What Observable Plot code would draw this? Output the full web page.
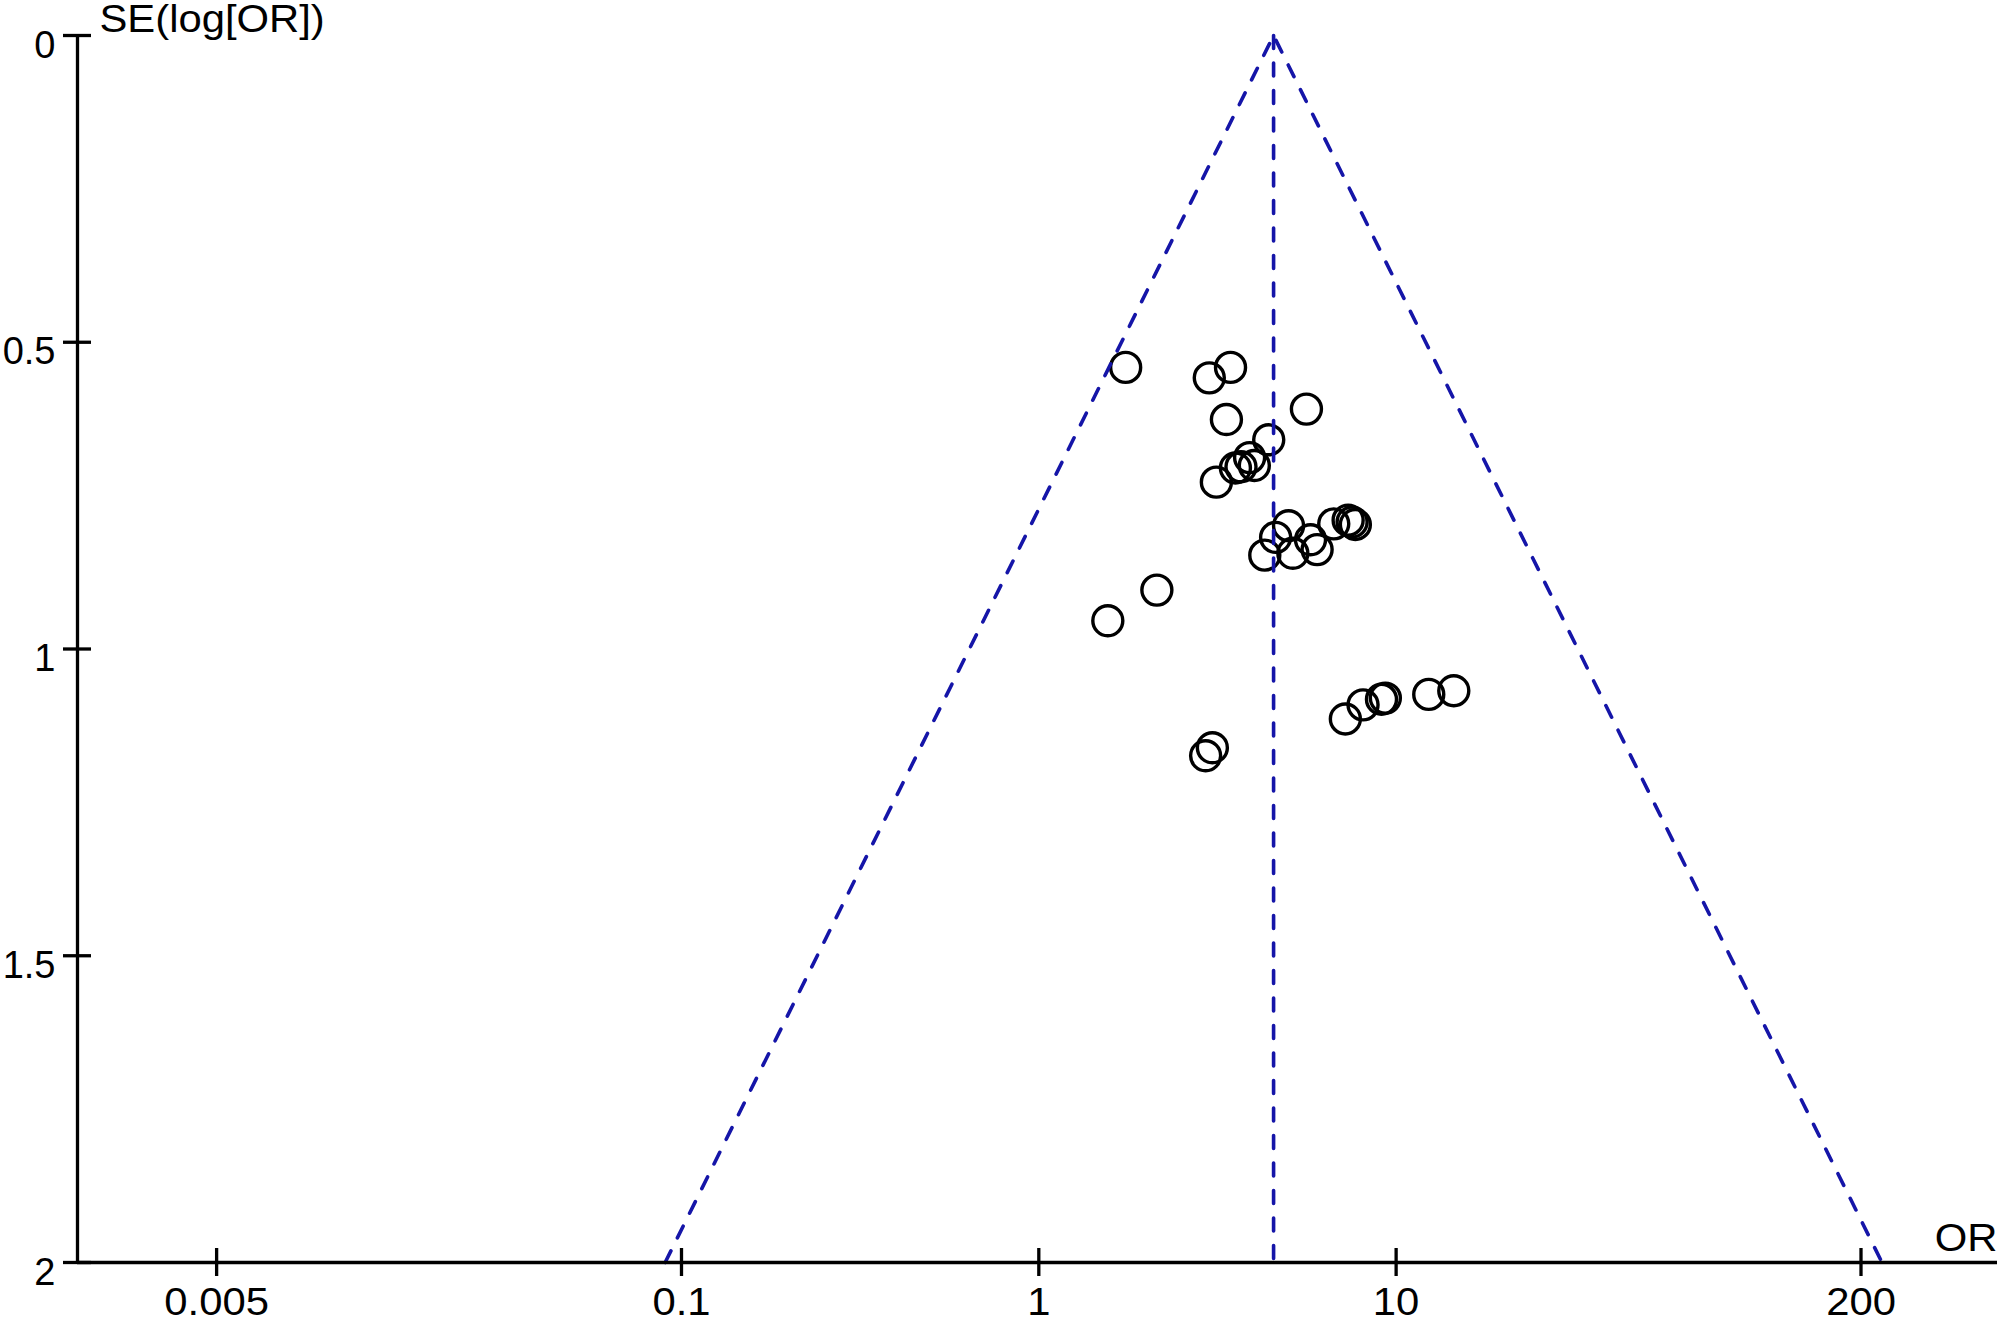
<!DOCTYPE html>
<html>
<head>
<meta charset="utf-8">
<script src="https://cdn.jsdelivr.net/npm/d3@7"></script>
<script src="https://cdn.jsdelivr.net/npm/@observablehq/plot@0.6"></script>
<style>
  html, body { margin: 0; padding: 0; background: #ffffff; }
  #chart svg { display: block; }
</style>
</head>
<body>
<div id="chart"></div>
<script>
// Study odds ratios (x) and standard errors of log OR (y)
const orValues = [1.75, 3.00, 3.44, 5.61, 3.35, 4.40, 3.55, 3.68, 3.89, 4.01, 3.14,
  4.60, 5.00, 4.29, 5.14, 5.76, 6.01, 6.69, 7.34, 7.53, 7.69,
  2.14, 1.56, 3.06, 2.93, 7.21, 8.08, 9.10, 9.33, 12.34, 14.50];
const seValues = [0.541, 0.558, 0.541, 0.609, 0.626, 0.659, 0.705, 0.703, 0.688, 0.701, 0.728,
  0.818, 0.799, 0.847, 0.844, 0.822, 0.838, 0.796, 0.790, 0.793, 0.797,
  0.904, 0.954, 1.161, 1.174, 1.114, 1.091, 1.082, 1.080, 1.074, 1.068];

// Funnel (pseudo 95% limits) and pooled estimate
const funnelOR = [0.090, 4.54, 229];
const funnelSE = [2, 0, 2];
const pooledOR = [4.54, 4.54];
const pooledSE = [0, 2];

// Axis ticks
const xTicks = [0.005, 0.1, 1, 10, 200];
const yTicks = [0, 0.5, 1, 1.5, 2];
const xDomain = [0.00204, 482];
const yDomain = [0, 2];

const studies = orValues.map((v, i) => ({or: v, se: seValues[i]}));
const funnel = funnelOR.map((v, i) => ({or: v, se: funnelSE[i]}));
const pooled = pooledOR.map((v, i) => ({or: v, se: pooledSE[i]}));

const blue = "#1515a8";
const dash = "13,14.5";

const chart = Plot.plot({
  width: 2000,
  height: 1320,
  marginLeft: 77,
  marginRight: 3,
  marginTop: 35,
  marginBottom: 58,
  style: {fontFamily: "'Liberation Sans', Arial, sans-serif", fontSize: "38px", color: "black", background: "white", overflow: "visible"},
  x: {type: "log", domain: xDomain},
  y: {domain: yDomain, reverse: true},
  marks: [
    Plot.dot(studies, {x: "or", y: "se", r: 15, stroke: "black", strokeWidth: 3.4, fill: "none"}),
    Plot.line(funnel, {x: "or", y: "se", stroke: blue, strokeWidth: 3.6, strokeDasharray: dash}),
    Plot.line(pooled, {x: "or", y: "se", stroke: blue, strokeWidth: 3.6, strokeDasharray: dash}),
    // axis lines
    Plot.ruleX([xDomain[0]], {y1: yDomain[0], y2: yDomain[1], stroke: "black", strokeWidth: 3.3}),
    Plot.ruleY([yDomain[1]], {x1: xDomain[0], x2: xDomain[1], stroke: "black", strokeWidth: 3.3}),
    // y ticks (crossing) and labels
    Plot.axisY(yTicks, {tickSize: 28, dx: 14, tickFormat: () => "", strokeWidth: 3.3, label: null}),
    Plot.axisY(yTicks, {tickSize: 0, tickPadding: 22, dy: 10, tickFormat: d => String(d), label: null}),
    // x ticks (crossing) and labels
    Plot.axisX(xTicks, {tickSize: 28, dy: -14, tickFormat: () => "", strokeWidth: 3.3, label: null}),
    Plot.axisX(xTicks, {tickSize: 0, tickPadding: 26, tickFormat: d => String(d), label: null}),
    // axis titles
    Plot.text(["SE(log[OR])"], {frameAnchor: "top-left", textAnchor: "start", lineAnchor: "bottom", dx: 22, dy: -4, fill: "black"}),
    Plot.text(["OR"], {frameAnchor: "bottom-right", textAnchor: "end", lineAnchor: "bottom", dx: 0, dy: -12, fill: "black"})
  ]
});
// The reference typeface is slightly wider: stretch labels horizontally about their anchor
// (left-axis labels are kept unstretched so they stay inside the picture)
chart.querySelectorAll("text").forEach(t => {
  if (t.closest('g[aria-label="y-axis tick label"]')) return;
  const tr = t.getAttribute("transform") || "";
  t.setAttribute("transform", (tr + " scale(1.1,1)").trim());
});
document.getElementById("chart").appendChild(chart);
</script>
</body>
</html>
